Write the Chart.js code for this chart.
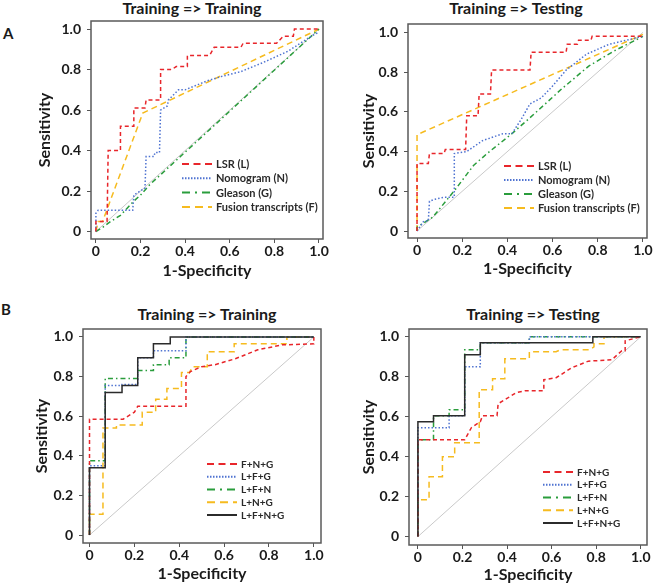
<!DOCTYPE html>
<html>
<head>
<meta charset="utf-8">
<script src="https://cdn.jsdelivr.net/npm/chart.js@4.4.1/dist/chart.umd.min.js"></script>
<style>
  body { margin: 0; background: #fff; width: 653px; height: 584px; position: relative; overflow: hidden; }
  canvas { position: absolute; }
  .title { position: absolute; width: 220px; text-align: center; font: bold 16px/1 Lato, sans-serif; color: #1a1a1a; white-space: nowrap; }
  .tag { position: absolute; font: bold 15px/1 Lato, sans-serif; color: #1a1a1a; }
</style>
</head>
<body>
<div class="tag" style="left:3px;top:26px">A</div>
<div class="tag" style="left:1px;top:302px">B</div>
<div class="title" style="left:82px;top:0px">Training =&gt; Training</div>
<div class="title" style="left:406px;top:0px">Training =&gt; Testing</div>
<div class="title" style="left:97px;top:306px">Training =&gt; Training</div>
<div class="title" style="left:423px;top:306px">Training =&gt; Testing</div>
<canvas id="a1"></canvas>
<canvas id="a2"></canvas>
<canvas id="b1"></canvas>
<canvas id="b2"></canvas>
<script>
// axis ticks shared by all four panels
const tickValues = [0, 0.2, 0.4, 0.6, 0.8, 1.0];
const tickLabels = ['0', '0.2', '0.4', '0.6', '0.8', '1.0'];
const diagonal = [[0, 0], [1, 1]];

const legendA = ['LSR (L)', 'Nomogram (N)', 'Gleason (G)', 'Fusion transcripts (F)'];
const legendB = ['F+N+G', 'L+F+G', 'L+F+N', 'L+N+G', 'L+F+N+G'];

// A: single markers, training => training  ([1-specificity, sensitivity])
const aTrainLsr = [[0,0],[0,0.05],[0.05,0.05],[0.055,0.40],[0.11,0.40],[0.11,0.52],[0.17,0.52],[0.17,0.61],[0.22,0.61],[0.225,0.65],[0.29,0.65],[0.29,0.80],[0.34,0.80],[0.36,0.815],[0.41,0.815],[0.41,0.87],[0.51,0.87],[0.53,0.91],[0.65,0.91],[0.66,0.93],[0.81,0.93],[0.84,0.965],[0.885,0.965],[0.89,1],[1,1]];
const aTrainNomo = [[0,0],[0,0.09],[0.01,0.105],[0.165,0.105],[0.17,0.18],[0.22,0.215],[0.225,0.37],[0.26,0.37],[0.265,0.39],[0.285,0.39],[0.29,0.60],[0.32,0.62],[0.325,0.65],[0.37,0.70],[0.40,0.70],[0.5,0.745],[0.56,0.765],[0.65,0.79],[0.75,0.835],[0.86,0.89],[0.97,0.968],[1,0.985]];
const aTrainGleason = [[0,0],[0.03,0.02],[0.067,0.05],[0.11,0.08],[0.17,0.15],[0.2,0.18],[0.24,0.23],[1,1]];
const aTrainFusion = [[0,0],[0.01,0.05],[0.03,0.05],[0.21,0.585],[1,1]];

// A: single markers, training => testing
const aTestLsr = [[0,0],[0,0.34],[0.05,0.34],[0.055,0.39],[0.12,0.39],[0.125,0.41],[0.215,0.41],[0.22,0.58],[0.27,0.58],[0.275,0.69],[0.325,0.69],[0.33,0.81],[0.50,0.81],[0.505,0.90],[0.66,0.90],[0.665,0.94],[0.71,0.94],[0.715,0.96],[0.77,0.96],[0.775,0.98],[1,0.98]];
const aTestNomo = [[0,0],[0.03,0.05],[0.05,0.05],[0.055,0.15],[0.08,0.16],[0.12,0.17],[0.165,0.17],[0.165,0.39],[0.22,0.40],[0.29,0.455],[0.38,0.49],[0.42,0.49],[0.46,0.56],[0.50,0.64],[0.55,0.67],[0.60,0.73],[0.66,0.81],[0.75,0.89],[0.85,0.94],[1,0.98]];
const aTestGleason = [[0,0],[0,0.02],[0.07,0.07],[0.17,0.21],[0.25,0.33],[0.31,0.39],[0.42,0.49],[0.50,0.57],[0.64,0.715],[0.76,0.83],[0.87,0.905],[1,0.98]];
const aTestFusion = [[0,0],[0,0.485],[1,0.99]];

// B: combinations, training => training
const bTrainFng = [[0,0],[0,0.585],[0.15,0.585],[0.2,0.62],[0.215,0.65],[0.43,0.65],[0.43,0.80],[0.45,0.825],[0.50,0.85],[0.56,0.86],[0.65,0.89],[0.75,0.935],[0.86,0.96],[1,0.965],[1,1]];
const bTrainLfg = [[0,0],[0,0.35],[0.07,0.35],[0.07,0.755],[0.145,0.755],[0.145,0.76],[0.215,0.76],[0.215,0.895],[0.285,0.895],[0.285,0.93],[0.43,0.93],[0.43,1],[1,1]];
const bTrainLfn = [[0,0],[0,0.375],[0.07,0.375],[0.07,0.79],[0.215,0.79],[0.215,0.83],[0.285,0.83],[0.285,0.86],[0.355,0.86],[0.355,0.895],[0.43,0.895],[0.43,1],[1,1]];
const bTrainLng = [[0,0],[0,0.105],[0.06,0.105],[0.06,0.54],[0.12,0.54],[0.12,0.555],[0.235,0.555],[0.235,0.62],[0.295,0.62],[0.295,0.685],[0.345,0.685],[0.345,0.74],[0.41,0.74],[0.41,0.82],[0.445,0.82],[0.46,0.85],[0.525,0.85],[0.525,0.925],[0.645,0.925],[0.645,0.965],[0.88,0.965],[0.88,1],[1,1]];
const bTrainAll = [[0,0],[0,0.34],[0.07,0.34],[0.07,0.72],[0.145,0.72],[0.145,0.755],[0.215,0.755],[0.215,0.895],[0.285,0.895],[0.285,0.965],[0.36,0.965],[0.36,1],[1,1]];

// B: combinations, training => testing
const bTestFng = [[0,0],[0,0.485],[0.21,0.485],[0.24,0.545],[0.28,0.575],[0.29,0.605],[0.355,0.605],[0.36,0.665],[0.405,0.695],[0.44,0.72],[0.48,0.73],[0.565,0.73],[0.565,0.785],[0.62,0.795],[0.69,0.845],[0.765,0.878],[0.87,0.885],[0.915,0.93],[0.93,0.93],[0.93,0.98],[1,1]];
const bTestLfg = [[0,0],[0,0.545],[0.14,0.545],[0.14,0.605],[0.21,0.605],[0.21,0.85],[0.28,0.85],[0.28,0.97],[0.5,0.97],[0.5,1],[1,1]];
const bTestLfn = [[0,0],[0,0.485],[0.07,0.485],[0.07,0.605],[0.14,0.605],[0.14,0.635],[0.21,0.635],[0.21,0.935],[0.28,0.935],[0.28,0.97],[0.5,0.97],[0.5,1],[1,1]];
const bTestLng = [[0,0],[0,0.185],[0.05,0.185],[0.05,0.30],[0.11,0.30],[0.11,0.40],[0.165,0.40],[0.165,0.47],[0.275,0.47],[0.275,0.735],[0.335,0.735],[0.335,0.79],[0.39,0.79],[0.39,0.89],[0.5,0.89],[0.5,0.925],[0.62,0.925],[0.64,0.935],[0.77,0.935],[0.79,0.95],[0.79,0.965],[0.835,0.965],[0.835,1],[1,1]];
const bTestAll = [[0,0],[0,0.575],[0.07,0.575],[0.07,0.605],[0.21,0.605],[0.21,0.91],[0.28,0.91],[0.28,0.97],[0.785,0.97],[0.785,1],[1,1]];

const red = { borderColor: '#e8262b', borderDash: [4, 3], legendDash: [7, 4.5] };
const blue = { borderColor: '#4f73d1', borderDash: [1.5, 2], legendDash: [1.5, 1.5] };
const green = { borderColor: '#2a9d3c', borderDash: [5, 3, 1.5, 3], legendDash: [8, 5, 2, 5] };
const yellow = { borderColor: '#f6bb1f', borderDash: [6, 4], legendDash: [8, 5] };
const black = { borderColor: '#2b2b2b', borderDash: [], legendDash: [] };

Chart.defaults.font.family = 'Lato';
Chart.defaults.color = '#1a1a1a';

// box around the plot area
const framePlugin = {
    id: 'frame',
    afterDraw(chart) {
        const { ctx, chartArea: a } = chart;
        ctx.save();
        ctx.strokeStyle = '#5a5a5a';
        ctx.lineWidth = 1.5;
        ctx.strokeRect(a.left, a.top, a.right - a.left, a.bottom - a.top);
        ctx.restore();
    }
};

// legend drawn inside the plot, as in the figure
const rocLegend = {
    id: 'rocLegend',
    afterDraw(chart, args, opts) {
        const { ctx, chartArea: a } = chart;
        const items = chart.data.datasets.filter(d => d.legendDash);
        ctx.save();
        ctx.font = 'bold ' + opts.size + 'px Lato';
        ctx.textBaseline = 'middle';
        ctx.fillStyle = '#2a2a2a';
        items.forEach((d, i) => {
            const y = a.top + opts.y + i * opts.gap;
            const x = a.left + opts.x;
            ctx.strokeStyle = d.borderColor;
            ctx.lineWidth = 2;
            ctx.setLineDash(d.legendDash);
            ctx.beginPath();
            ctx.moveTo(x, y);
            ctx.lineTo(x + 30, y);
            ctx.stroke();
            ctx.fillText(d.label, x + 34, y + 0.5);
        });
        ctx.restore();
    }
};

function toXY(points) {
    return points.map(p => ({ x: p[0], y: p[1] }));
}

function makeAxis(range, title, fitSize, horizontal) {
    return {
        type: 'linear',
        min: range[0],
        max: range[1],
        afterBuildTicks: s => { s.ticks = tickValues.map(v => ({ value: v })); },
        afterFit: s => {
            if (horizontal) s.height = fitSize; else s.width = fitSize;
            s.paddingLeft = s.paddingRight = s.paddingTop = s.paddingBottom = 0;
        },
        border: { display: false },
        grid: { drawOnChartArea: false, drawTicks: true, tickLength: 4, color: '#555', lineWidth: 1 },
        ticks: {
            font: { size: 14, weight: 'bold' },
            padding: horizontal ? 0 : 6,
            maxRotation: 0,
            callback: (v, i) => tickLabels[i]
        },
        title: { display: true, text: title, font: { size: 16, weight: 'bold', lineHeight: 1.2 }, padding: 0 }
    };
}

function makePanel(id, box, xr, yr, axisW, axisH, names, series, styles, legendOpts) {
    const [L, T, W, H] = box;
    const padTop = 6, padRight = 12;
    const cv = document.getElementById(id);
    cv.width = axisW + W + padRight;
    cv.height = padTop + H + axisH;
    cv.style.left = (L - axisW) + 'px';
    cv.style.top = (T - padTop) + 'px';

    const datasets = series.map((s, i) => ({
        label: names[i],
        data: toXY(s),
        ...styles[i],
        borderWidth: 1.5,
        showLine: true,
        pointRadius: 0,
        tension: 0,
        fill: false,
        order: styles[i] === black ? 0 : i + 1
    }));
    datasets.push({ label: 'ref', data: toXY(diagonal), borderColor: '#c9c9c9', borderWidth: 1, showLine: true, pointRadius: 0, order: 20 });

    new Chart(cv, {
        type: 'scatter',
        data: { datasets },
        options: {
            responsive: false,
            animation: false,
            devicePixelRatio: 1,
            layout: { padding: { top: padTop, right: padRight, left: 0, bottom: 0 } },
            plugins: {
                legend: { display: false },
                tooltip: { enabled: false },
                rocLegend: legendOpts
            },
            scales: {
                x: makeAxis(xr, '1-Specificity', axisH, true),
                y: makeAxis(yr, 'Sensitivity', axisW, false)
            }
        },
        plugins: [framePlugin, rocLegend]
    });
}

function drawAll() {
    const aStyles = [red, blue, green, yellow];
    const bStyles = [red, blue, green, yellow, black];
    makePanel('a1', [91, 21, 232, 218], [-0.022, 1.018], [-0.037, 1.04], 56, 41, legendA,
        [aTrainLsr, aTrainNomo, aTrainGleason, aTrainFusion], aStyles, { x: 91, y: 143, gap: 14.3, size: 11 });
    makePanel('a2', [408, 24, 239, 214], [-0.04, 1.018], [-0.035, 1.042], 49, 40, legendA,
        [aTestLsr, aTestNomo, aTestGleason, aTestFusion], aStyles, { x: 96, y: 142, gap: 14, size: 11 });
    makePanel('b1', [83, 329, 238, 214], [-0.029, 1.032], [-0.04, 1.04], 51, 40, legendB,
        [bTrainFng, bTrainLfg, bTrainLfn, bTrainLng, bTrainAll], bStyles, { x: 124, y: 135, gap: 12.75, size: 10 });
    makePanel('b2', [409, 329, 238, 216], [-0.04, 1.028], [-0.042, 1.039], 50, 39, legendB,
        [bTestFng, bTestLfg, bTestLfn, bTestLng, bTestAll], bStyles, { x: 134, y: 143, gap: 12.75, size: 10 });
}

Promise.all([
    document.fonts.load('bold 16px Lato'),
    document.fonts.load('bold 11px Lato')
]).then(drawAll, drawAll);
</script>
</body>
</html>
